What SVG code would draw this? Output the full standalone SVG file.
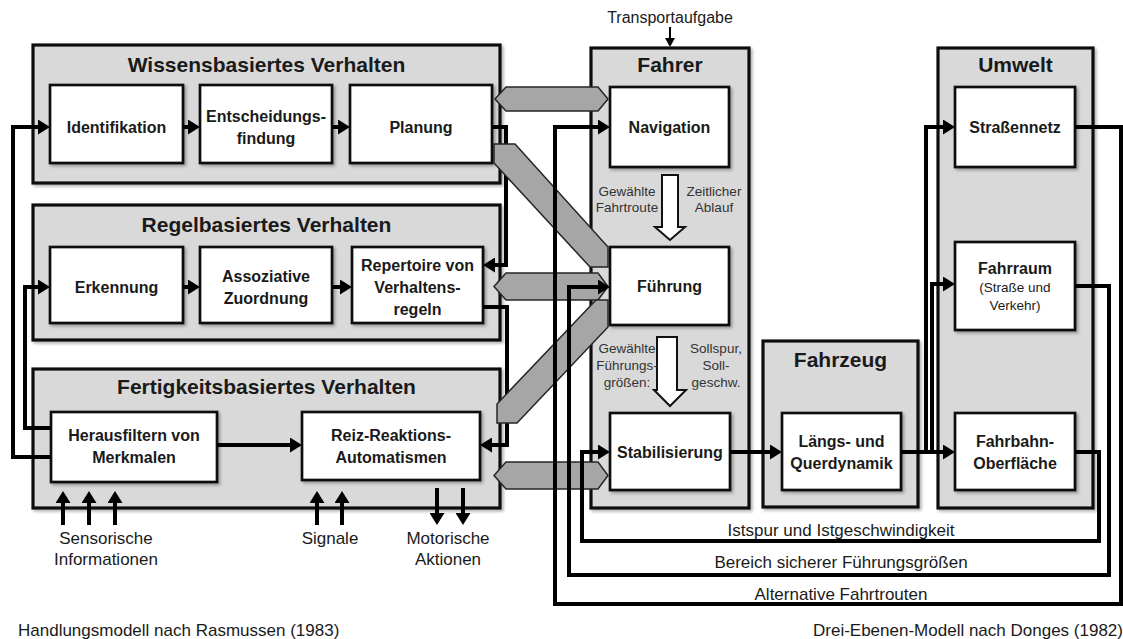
<svg xmlns="http://www.w3.org/2000/svg" width="1123" height="639" viewBox="0 0 1123 639">
  <defs>
    <style>
      text { font-family: "Liberation Sans", Arial, sans-serif; fill: #1a1a1a; }
      .title { font-size: 21px; font-weight: bold; text-anchor: middle; }
      .node { font-size: 16px; font-weight: bold; text-anchor: middle; }
      .small { font-size: 13.5px; text-anchor: middle; }
      .lbl { font-size: 17px; text-anchor: middle; }
      .note { font-size: 13.5px; text-anchor: middle; fill: #333; }
      .panel { fill: #d9d9d9; stroke: #111; stroke-width: 3.2; filter: url(#shadow); }
      .box { fill: #fff; stroke: #111; stroke-width: 2.7; filter: url(#shadow); }
      .ln { fill: none; stroke: #000; stroke-width: 4; stroke-linejoin: miter; marker-end: url(#ah); }
      .ln-plain { fill: none; stroke: #000; stroke-width: 4; stroke-linejoin: miter; }
      .band { fill: #a6a6a6; stroke: #262626; stroke-width: 1.5; stroke-linejoin: miter; }
      .block { fill: #fff; stroke: #111; stroke-width: 2; }
    </style>
    <filter id="shadow" x="-10%" y="-10%" width="130%" height="130%">
      <feDropShadow dx="2" dy="2" stdDeviation="1.5" flood-color="#000" flood-opacity="0.3"/>
    </filter>
    <marker id="ah" markerUnits="userSpaceOnUse" markerWidth="12" markerHeight="15" refX="5" refY="7.5" orient="auto">
      <path d="M0,0 L12,7.5 L0,15 z" fill="#000"/>
    </marker>
    <marker id="ah-sm" markerUnits="userSpaceOnUse" markerWidth="9" markerHeight="10" refX="3" refY="5" orient="auto">
      <path d="M0,0 L9,5 L0,10 z" fill="#000"/>
    </marker>
  </defs>

  <rect x="0" y="0" width="1123" height="639" fill="#fff"/>

  <!-- Rasmussen: three behaviour levels -->
  <g id="wissensbasiert">
    <rect class="panel" x="33" y="45" width="467" height="138"/>
    <text class="title" x="266.5" y="72">Wissensbasiertes Verhalten</text>
  </g>
  <g id="regelbasiert">
    <rect class="panel" x="33" y="205" width="467" height="135"/>
    <text class="title" x="266.5" y="232">Regelbasiertes Verhalten</text>
  </g>
  <g id="fertigkeitsbasiert">
    <rect class="panel" x="33" y="369" width="467" height="139"/>
    <text class="title" x="266.5" y="394">Fertigkeitsbasiertes Verhalten</text>
  </g>

  <!-- Donges: driver, vehicle, environment -->
  <g id="fahrer">
    <rect class="panel" x="591" y="48" width="158" height="460"/>
    <text class="title" x="670" y="72">Fahrer</text>
  </g>
  <g id="fahrzeug">
    <rect class="panel" x="763" y="341" width="155" height="166"/>
    <text class="title" x="840.5" y="367">Fahrzeug</text>
  </g>
  <g id="umwelt">
    <rect class="panel" x="938" y="48" width="155" height="460"/>
    <text class="title" x="1015.5" y="72">Umwelt</text>
  </g>

  <!-- Inner process boxes -->
  <g id="identifikation">
    <rect class="box" x="50" y="85" width="133" height="78"/>
    <text class="node" x="116.5" y="133">Identifikation</text>
  </g>
  <g id="entscheidungsfindung">
    <rect class="box" x="200" y="85" width="132" height="78"/>
    <text class="node" x="266" y="122">Entscheidungs-</text>
    <text class="node" x="266" y="144">findung</text>
  </g>
  <g id="planung">
    <rect class="box" x="350" y="85" width="142" height="78"/>
    <text class="node" x="421" y="133">Planung</text>
  </g>
  <g id="erkennung">
    <rect class="box" x="50" y="247" width="133" height="76"/>
    <text class="node" x="116.5" y="293">Erkennung</text>
  </g>
  <g id="assoziative-zuordnung">
    <rect class="box" x="200" y="247" width="132" height="76"/>
    <text class="node" x="266" y="282">Assoziative</text>
    <text class="node" x="266" y="304">Zuordnung</text>
  </g>
  <g id="repertoire">
    <rect class="box" x="352" y="247" width="131" height="76"/>
    <text class="node" x="417.5" y="271">Repertoire von</text>
    <text class="node" x="417.5" y="293">Verhaltens-</text>
    <text class="node" x="417.5" y="315">regeln</text>
  </g>
  <g id="herausfiltern">
    <rect class="box" x="51" y="412" width="166" height="70"/>
    <text class="node" x="134" y="441">Herausfiltern von</text>
    <text class="node" x="134" y="463">Merkmalen</text>
  </g>
  <g id="reiz-reaktion">
    <rect class="box" x="302" y="412" width="178" height="68"/>
    <text class="node" x="391" y="441">Reiz-Reaktions-</text>
    <text class="node" x="391" y="463">Automatismen</text>
  </g>
  <g id="navigation">
    <rect class="box" x="610" y="87" width="119" height="80"/>
    <text class="node" x="669.5" y="133">Navigation</text>
  </g>
  <g id="fuehrung">
    <rect class="box" x="610" y="247" width="119" height="78"/>
    <text class="node" x="669.5" y="292">Führung</text>
  </g>
  <g id="stabilisierung">
    <rect class="box" x="610" y="413" width="120" height="77"/>
    <text class="node" x="670" y="458">Stabilisierung</text>
  </g>
  <g id="laengs-querdynamik">
    <rect class="box" x="782" y="413" width="119" height="77"/>
    <text class="node" x="841.5" y="447">Längs- und</text>
    <text class="node" x="841.5" y="469">Querdynamik</text>
  </g>
  <g id="strassennetz">
    <rect class="box" x="955" y="87" width="120" height="80"/>
    <text class="node" x="1015" y="133">Straßennetz</text>
  </g>
  <g id="fahrraum">
    <rect class="box" x="955" y="242" width="120" height="88"/>
    <text class="node" x="1015" y="274">Fahrraum</text>
    <text class="small" x="1015" y="292">(Straße und</text>
    <text class="small" x="1015" y="310">Verkehr)</text>
  </g>
  <g id="fahrbahn">
    <rect class="box" x="955" y="413" width="120" height="77"/>
    <text class="node" x="1015" y="447">Fahrbahn-</text>
    <text class="node" x="1015" y="469">Oberfläche</text>
  </g>

  <!-- Connectors -->
  <g id="connectors">
    <!-- links inside the Rasmussen model -->
    <g id="rasmussen-links">
      <path class="ln" d="M183,127 H193"/>
      <path class="ln" d="M332,127 H343"/>
      <path class="ln" d="M183,287 H193"/>
      <path class="ln" d="M332,287 H345"/>
      <path class="ln" d="M217,445 H295"/>
      <path class="ln" d="M51,457 H13 V127 H43"/>
      <path class="ln" d="M51,428 H25 V287 H43"/>
      <path class="ln" d="M492,127 H506 V265 H490"/>
      <path class="ln" d="M483,307 H507 V445 H487"/>
      <!-- sensory inputs, signals, motor actions -->
      <path class="ln" d="M63,525 V498"/>
      <path class="ln" d="M89,525 V498"/>
      <path class="ln" d="M115,525 V498"/>
      <path class="ln" d="M317,525 V498"/>
      <path class="ln" d="M342,525 V498"/>
      <path class="ln" d="M437,488 V518"/>
      <path class="ln" d="M463,488 V518"/>
    </g>

    <!-- interfaces between behaviour levels and driving task levels -->
    <g id="level-interfaces">
      <polygon class="band" points="495,99 506,87 598,87 608,99 598,111 506,111"/>
      <polygon class="band" points="494,286.5 506,273 598,273 608,286.5 598,300 506,300"/>
      <polygon class="band" points="494,475.5 506,462 598,462 608,475.5 598,489 506,489"/>
      <polygon class="band" points="494,144 515,144 608,247 608,267 590,267 494,163"/>
      <polygon class="band" points="596,300 608,300 608,327 517,423 497,423 497,404"/>
    </g>

    <!-- hierarchy arrows inside the driver -->
    <g id="driver-hierarchy">
      <polygon class="block" points="662,175 678,175 678,227 685,227 670,240 655,227 662,227"/>
      <text class="note" x="627" y="196">Gewählte</text>
      <text class="note" x="627" y="212">Fahrtroute</text>
      <text class="note" x="714" y="196">Zeitlicher</text>
      <text class="note" x="714" y="212">Ablauf</text>
      <polygon class="block" points="657,337 677,337 677,390 686,390 670,406 654,390 657,390"/>
      <text class="note" x="627" y="353">Gewählte</text>
      <text class="note" x="627" y="370">Führungs-</text>
      <text class="note" x="627" y="387">größen:</text>
      <text class="note" x="716" y="353">Sollspur,</text>
      <text class="note" x="716" y="370">Soll-</text>
      <text class="note" x="716" y="387">geschw.</text>
    </g>

    <!-- Donges control loops -->
    <g id="donges-links">
      <path d="M670,27 V41" fill="none" stroke="#000" stroke-width="2" marker-end="url(#ah-sm)"/>
      <path class="ln" d="M730,452 H775"/>
      <path class="ln" d="M901,452 H948"/>
      <path class="ln" d="M926,452 V127 H948"/>
      <path class="ln" d="M932,452 V284 H948"/>
      <path class="ln" d="M1075,127 H1121 V604 H555 V127 H603"/>
      <path class="ln" d="M1075,286 H1109 V575 H569 V287 H603"/>
      <path class="ln" d="M1075,452 H1099 V541 H582 V452 H603"/>
    </g>
  </g>

  <!-- Free labels -->
  <g id="labels">
    <text class="lbl" x="670" y="23" style="font-size:16px">Transportaufgabe</text>
    <text class="lbl" x="106" y="544">Sensorische</text>
    <text class="lbl" x="106" y="565">Informationen</text>
    <text class="lbl" x="330" y="544">Signale</text>
    <text class="lbl" x="448" y="544">Motorische</text>
    <text class="lbl" x="448" y="565">Aktionen</text>
    <text class="lbl" x="841" y="536">Istspur und Istgeschwindigkeit</text>
    <text class="lbl" x="841" y="568">Bereich sicherer Führungsgrößen</text>
    <text class="lbl" x="841" y="600">Alternative Fahrtrouten</text>
    <text x="18" y="636" style="font-size:17px">Handlungsmodell nach Rasmussen (1983)</text>
    <text x="813" y="636" style="font-size:17px">Drei-Ebenen-Modell nach Donges (1982)</text>
  </g>
</svg>
